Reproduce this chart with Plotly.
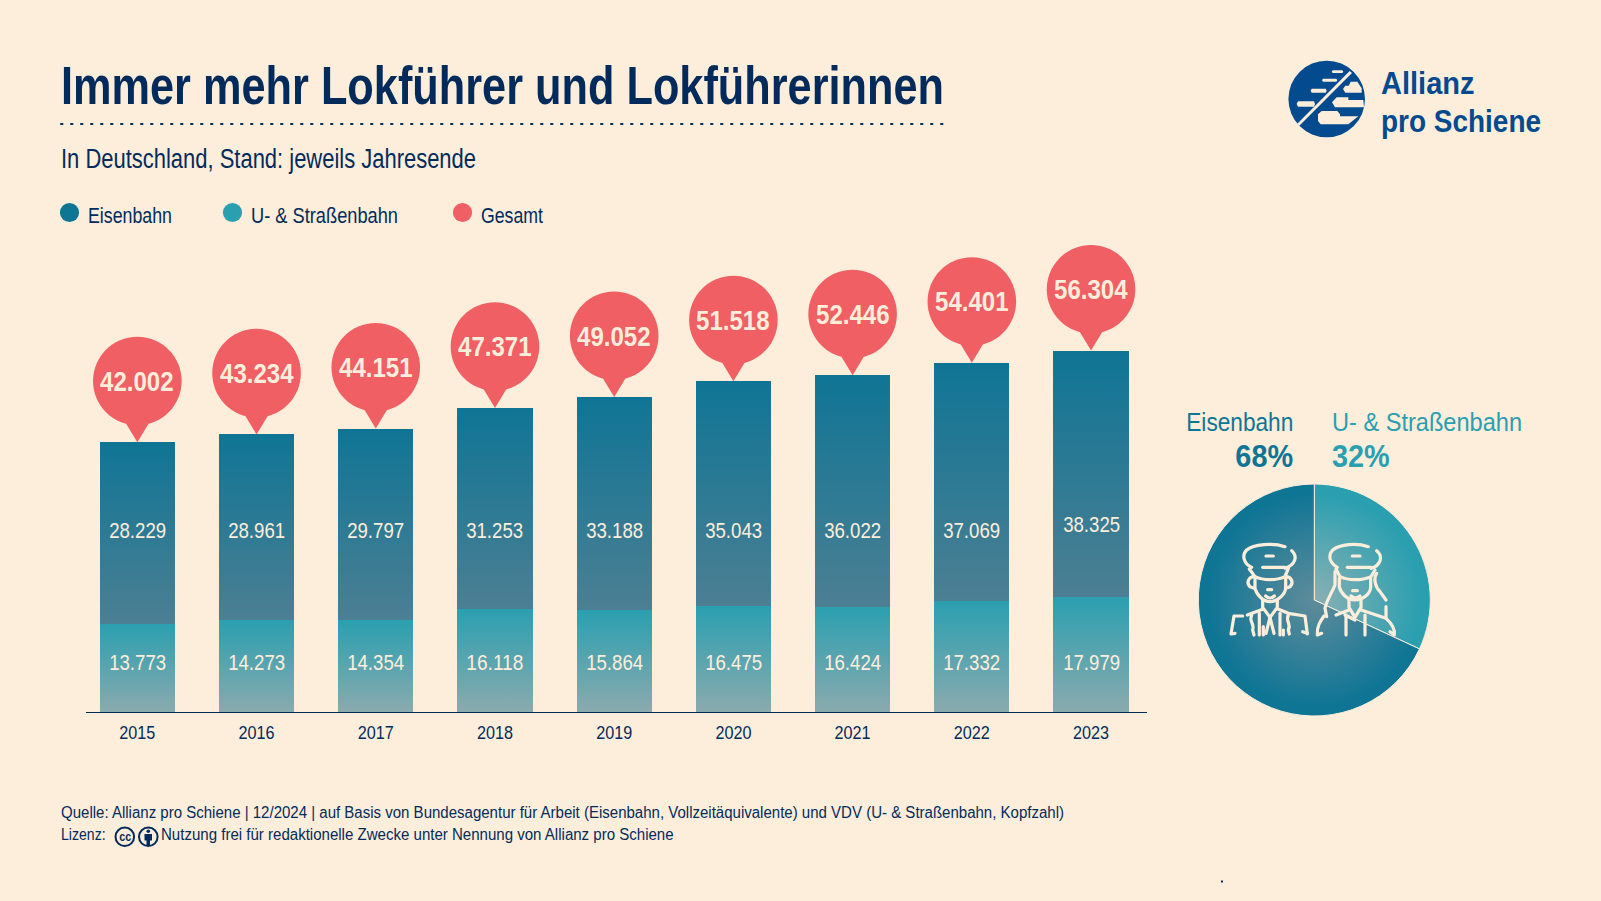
import re
import plotly.graph_objects as go

W, H = 1601, 901
BG = "#fdeedc"
NAVY = "#022b5b"
TEAL = "#0f7595"
TURQ = "#2a9fb0"
RED = "#f05f63"
LOGO = "#034a8e"
SANS = "Liberation Sans"

years = [2015, 2016, 2017, 2018, 2019, 2020, 2021, 2022, 2023]
eisenbahn = [28229, 28961, 29797, 31253, 33188, 35043, 36022, 37069, 38325]
strassenbahn = [13773, 14273, 14354, 16118, 15864, 16475, 16424, 17332, 17979]
gesamt = [42002, 43234, 44151, 47371, 49052, 51518, 52446, 54401, 56304]
pie_labels = ["U- & Straßenbahn", "Eisenbahn"]
pie_values = [strassenbahn[-1], eisenbahn[-1]]
pie_colors = [TURQ, TEAL]

title = "Immer mehr Lokführer und Lokführerinnen"
subtitle = "In Deutschland, Stand: jeweils Jahresende"
source = ("Quelle: Allianz pro Schiene | 12/2024 | auf Basis von Bundesagentur für Arbeit "
          "(Eisenbahn, Vollzeitäquivalente) und VDV (U- & Straßenbahn, Kopfzahl)")
licence = "Nutzung frei für redaktionelle Zwecke unter Nennung von Allianz pro Schiene"
logo_name = "Allianz<br>pro Schiene"


def de(v):
    return f"{v:,}".replace(",", ".")


def fx(p):
    return p / W


def fy(p):
    return 1 - p / H


annotations, shapes = [], []


def text(x, y, s, size, width, color=NAVY, bold=False, anchor="left"):
    annotations.append(dict(
        xref="paper", yref="paper", x=fx(x), y=fy(y), text=s, name=str(width),
        showarrow=False, xanchor=anchor, yanchor="middle", align=anchor,
        font=dict(family=SANS, size=size, color=color, weight=700 if bold else 400),
        borderpad=0, borderwidth=0))


def circle(cx, cy, r, fill, line=None, lw=0):
    shapes.append(dict(type="circle", xref="paper", yref="paper",
                       x0=fx(cx - r), x1=fx(cx + r), y0=fy(cy - r), y1=fy(cy + r),
                       fillcolor=fill, line=dict(color=line or fill, width=lw), layer="above"))


def draw(path, ox, oy, s=3.0, color=BG, lw=3.2, fill=None):
    def rep(m):
        return f"{fx(ox + float(m[1]) / s):.6f},{fy(oy + float(m[2]) / s):.6f}"
    d = re.sub(r"(-?[\d.]+),(-?[\d.]+)", rep, path)
    shapes.append(dict(type="path", xref="paper", yref="paper", path=d, layer="above",
                       fillcolor=fill or "rgba(0,0,0,0)",
                       line=dict(color=color, width=lw)))


# header
text(61, 85.5, title, 54, 883, bold=True)
shapes.append(dict(type="line", xref="paper", yref="paper", x0=fx(61), x1=fx(944), y0=fy(124), y1=fy(124),
                   line=dict(color=NAVY, width=2, dash="1.5px,8.5px"), layer="above"))
text(61, 159, subtitle, 27, 415)

# legend
for cx, tx, col, lab, wd in [(69.5, 88, TEAL, "Eisenbahn", 84), (232.5, 251, TURQ, "U- & Straßenbahn", 147),
                             (462.5, 481, RED, "Gesamt", 62)]:
    circle(cx, 212.5, 9.6, col)
    text(tx, 215.5, lab, 22.5, wd)

# inner labels and bubbles
eisen_label_y = [530.5] * 8 + [524.5]
R, C, K = 44.3, 61.3, 44.3 * 0.5523
circle_path = (f"M {-R},{C} C {-R},{C + K} {-K},{C + R} 0,{C + R} "
               f"C {K},{C + R} {R},{C + K} {R},{C} C {R},{C - K} {K},{C - R} 0,{C - R} "
               f"C {-K},{C - R} {-R},{C - K} {-R},{C} Z")
for i, yr in enumerate(years):
    annotations.append(dict(xref="x", yref="paper", x=yr, y=fy(eisen_label_y[i]), text=de(eisenbahn[i]), name="57",
                            showarrow=False, font=dict(family=SANS, size=22, color=BG), yanchor="middle"))
    annotations.append(dict(xref="x", yref="paper", x=yr, y=fy(662), text=de(strassenbahn[i]), name="57",
                            showarrow=False, font=dict(family=SANS, size=22, color=BG), yanchor="middle"))
    for d in (circle_path, "M 0,0 L -11.5,19 L 11.5,19 Z"):
        shapes.append(dict(type="path", xref="x", yref="y", xsizemode="pixel", ysizemode="pixel",
                           xanchor=yr, yanchor=gesamt[i], path=d, fillcolor=RED,
                           line=dict(width=0), layer="above"))
    annotations.append(dict(xref="x", yref="y", x=yr, y=gesamt[i], yshift=61, text=de(gesamt[i]), name="73.5",
                            showarrow=False, yanchor="middle",
                            font=dict(family=SANS, size=28, color=BG, weight=700)))

# pie headings
text(1293, 421.5, "Eisenbahn", 26.5, 107, TEAL, anchor="right")
text(1293, 456.5, "68%", 31.5, 57.7, TEAL, bold=True, anchor="right")
text(1331.5, 421.5, "U- & Straßenbahn", 26.5, 190, TURQ)
text(1331.5, 456.5, "32%", 31.5, 57.7, TURQ, bold=True)

# footer
text(61, 812, source, 16, 1003)
text(61, 834.5, "Lizenz:", 16, 44.6)
circle(124.8, 836.8, 9.3, "rgba(0,0,0,0)", NAVY, 2)
circle(148.3, 836.8, 9.3, "rgba(0,0,0,0)", NAVY, 2)
text(124.8, 836.4, "cc", 13, 12, NAVY, bold=True, anchor="center")
circle(148.3, 831.2, 1.8, NAVY)
draw("M 144.5,834 L 152,834 L 152,840.5 L 150,840.5 L 150,845 L 146.5,845 L 146.5,840.5 L 144.5,840.5 Z",
     0, 0, 1.0, NAVY, 0, NAVY)
text(161, 834.5, licence, 16, 512.6)
shapes.append(dict(type="rect", xref="paper", yref="paper", x0=fx(1221), x1=fx(1223), y0=fy(880.5), y1=fy(882.5),
                   fillcolor=NAVY, line=dict(width=0), layer="above"))

# logo
circle(1326.7, 99, 38.3, LOGO)
logo_parts = [
    "M 58,212 L 52,206 L 209,48 L 216,54 Z",
    "M 54,139 L 102,139 L 105,147 L 102,155 L 54,155 L 50,147 Z",
    "M 95,101 L 137,101 L 140,107 L 137,113 L 95,113 L 92,107 Z",
    "M 129,71 L 169,71 L 172,75.5 L 169,80 L 129,80 L 126,75.5 Z",
    "M 158,46 L 187,46 L 190,50 L 187,54 L 158,54 L 155,50 Z",
    "M 212,80 L 232,80 L 245,100 L 245,113 L 196,113 L 189,102 L 196,92 L 206,92 Z",
    "M 170,127 L 205,127 L 205,135 L 250,135 L 252,157 L 165,157 L 156,142 Z",
    "M 125,168 L 172,168 L 180,178 L 180,184 L 235,184 L 205,208 L 122,208 L 114,198 L 114,178 Z",
]
for p in logo_parts:
    draw(p, 1280, 55, 3.0, BG, 0, BG)
annotations.append(dict(xref="paper", yref="paper", x=fx(1380), y=fy(64), text=logo_name, showarrow=False,
                        xanchor="left", yanchor="top", align="left", borderpad=0,
                        font=dict(family=SANS, size=32, color=LOGO, weight=700)))

# pie icons
man = [
    "M 195,50 C 160,38 100,42 80,60 C 65,75 70,100 95,112",
    "M 215,62 C 235,80 225,105 195,115",
    "M 128,112 L 195,112",
    "M 88,117 L 105,140 C 130,152 170,152 195,140 L 205,115",
    "M 138,78 L 160,78",
    "M 105,140 L 105,175 C 110,195 130,215 150,215 C 170,215 195,195 197,175 L 197,145",
    "M 103,140 C 85,140 78,160 90,170 L 103,175",
    "M 198,140 C 215,140 222,160 210,170 L 197,175",
    "M 143,179 L 155,179",
    "M 137,198 C 145,206 155,206 163,198",
    "M 128,208 L 128,232 L 150,262 L 172,232 L 172,208",
    "M 82,255 L 128,238",
    "M 172,236 L 205,250 L 255,258 L 262,312",
    "M 68,258 L 42,258 L 33,312 L 45,310",
    "M 118,250 L 118,315",
    "M 180,250 L 180,315",
    "M 95,255 C 85,275 105,280 98,300 L 102,315",
    "M 205,255 C 195,275 215,280 205,300 L 208,312",
    "M 150,262 L 138,310",
    "M 150,262 L 162,310",
    "M 190,300 L 190,315",
    "M 130,290 L 130,315",
    "M 248,305 L 262,310",
]
woman = [
    "M 175,50 C 140,38 90,42 68,60 C 52,78 60,100 82,112",
    "M 200,62 C 222,80 210,108 183,115",
    "M 112,112 L 183,112",
    "M 78,117 L 90,140 C 115,152 155,152 183,140 L 195,120",
    "M 127,78 L 150,78",
    "M 88,145 L 88,172 C 95,195 115,210 135,210 C 155,210 180,195 182,172 L 182,145",
    "M 128,182 L 142,182",
    "M 123,198 C 130,205 142,205 150,198",
    "M 75,125 L 75,165 C 65,190 50,210 45,235 L 50,260",
    "M 200,130 C 190,145 195,170 210,185 L 228,210",
    "M 117,210 L 117,232 L 135,262 L 153,232 L 153,210",
    "M 42,258 C 30,275 20,290 22,315 L 35,310",
    "M 78,255 L 117,240",
    "M 105,255 L 135,270",
    "M 108,255 L 108,315",
    "M 165,255 L 165,315",
    "M 153,240 L 228,265 L 228,230",
    "M 228,265 C 245,280 255,300 253,315 L 240,305",
]
for p in man:
    draw(p, 1220, 530)
for p in woman:
    draw(p, 1310, 530)

tram_trace = go.Bar(x=years, y=strassenbahn, name="U- & Straßenbahn", marker=dict(color=TURQ, line=dict(width=0)),
                    width=0.63, hoverinfo="skip", showlegend=False)
eisen_trace = go.Bar(x=years, y=eisenbahn, name="Eisenbahn", marker=dict(color=TEAL, line=dict(width=0)),
                     width=0.63, hoverinfo="skip", showlegend=False)
pie_trace = go.Pie(labels=pie_labels, values=pie_values, sort=False, direction="clockwise", rotation=0,
                   marker=dict(colors=pie_colors, line=dict(color=BG, width=1)), textinfo="none",
                   hoverinfo="skip", showlegend=False,
                   domain=dict(x=[fx(1314.3 - 116), fx(1314.3 + 116)], y=[fy(600 + 116), fy(600 - 116)]))

fig = go.Figure([tram_trace, eisen_trace, pie_trace])
fig.update_layout(
    width=W, height=H, autosize=False, barmode="stack",
    margin=dict(l=0, r=0, t=0, b=0, pad=0, autoexpand=False),
    paper_bgcolor=BG, plot_bgcolor=BG,
    xaxis=dict(domain=[fx(86), fx(1147)], range=[2015 - 0.4306, 2023 + 0.4694], tickmode="array",
               tickvals=years, ticktext=[str(y) for y in years], showgrid=False, zeroline=False,
               showline=True, linecolor=NAVY, linewidth=1.2, ticks="outside", ticklen=4,
               tickcolor="rgba(0,0,0,0)", tickfont=dict(family=SANS, size=18.5, color=NAVY)),
    yaxis=dict(domain=[fy(712), fy(232)], range=[0, 74766], visible=False, fixedrange=True),
    annotations=annotations, shapes=shapes,
)

post = """
var gd=document.getElementById('{plot_id}');
document.documentElement.style.background='#fdeedc';
document.body.style.margin='0';document.body.style.background='#fdeedc';document.body.style.overflow='hidden';
var squeezed=false;
function squeeze(){
  if(squeezed)return;squeezed=true;
  var anns=gd.layout.annotations;
  gd.querySelectorAll('.annotation').forEach(function(a){
    var i=parseInt(a.getAttribute('data-index'));var spec=anns[i];var t=a.querySelector('text');
    if(!t||!spec)return;
    var lines=t.querySelectorAll('tspan.line');
    if(lines.length){
      var widths=[93.5,160];
      lines.forEach(function(l,k){
        l.setAttribute('textLength',widths[k]);l.setAttribute('lengthAdjust','spacingAndGlyphs');
        if(k>0)l.setAttribute('dy','37.5');
      });
      return;
    }
    if(!spec.name)return;
    var b0=t.getBoundingClientRect();
    t.setAttribute('textLength',parseFloat(spec.name));t.setAttribute('lengthAdjust','spacingAndGlyphs');
    var b1=t.getBoundingClientRect();
    var dx=spec.xanchor==='left'?b0.left-b1.left:spec.xanchor==='right'?b0.right-b1.right:(b0.left+b0.right-b1.left-b1.right)/2;
    t.setAttribute('x',parseFloat(t.getAttribute('x')||0)+dx);
  });
  gd.querySelectorAll('.xtick text').forEach(function(t){
    t.setAttribute('textLength',36);t.setAttribute('lengthAdjust','spacingAndGlyphs');
  });
}
function apply(){
  var svg=gd.querySelector('.main-svg');var defs=svg.querySelector('defs');
  var NS='http://www.w3.org/2000/svg';
  function grad(id,type,attrs,a,b){
    var old=document.getElementById(id);if(old)old.remove();
    var g=document.createElementNS(NS,type);g.setAttribute('id',id);
    for(var k in attrs)g.setAttribute(k,attrs[k]);
    [[0,a],[1,b]].forEach(function(s){var st=document.createElementNS(NS,'stop');
      st.setAttribute('offset',s[0]);st.setAttribute('stop-color',s[1]);g.appendChild(st);});
    defs.appendChild(g);
  }
  var v={x1:0,y1:0,x2:0,y2:1};
  grad('gTram','linearGradient',v,'#2a9fb0','#8aaaae');
  grad('gEisen','linearGradient',v,'#0f7595','#4c7f93');
  var tr=gd.querySelectorAll('.barlayer .trace');
  tr[0].querySelectorAll('.point path').forEach(function(p){p.style.fill='url(#gTram)';});
  tr[1].querySelectorAll('.point path').forEach(function(p){p.style.fill='url(#gEisen)';});
  var sl=gd.querySelectorAll('.pielayer .slice path.surface');
  var cols=[['gPieT','#8ab0b4','#2a9fb0'],['gPieE','#5f8c9b','#0f7595']];
  var r=sl[1].getBBox().height/2*0.92;
  sl.forEach(function(p,i){
    var m=p.getAttribute('d').match(/^M\\s*([-\\d.]+)[ ,]+([-\\d.]+)/);
    grad(cols[i][0],'radialGradient',{gradientUnits:'userSpaceOnUse',cx:m[1],cy:m[2],r:r},cols[i][1],cols[i][2]);
    p.style.fill='url(#'+cols[i][0]+')';
  });
  gd.querySelectorAll('.shapelayer path').forEach(function(p){p.style.strokeLinecap='round';p.style.strokeLinejoin='round';});
}
squeeze();apply();
gd.on('plotly_afterplot',apply);
"""

fig.write_html("out.html", post_script=post, config=dict(displayModeBar=False, responsive=False))
